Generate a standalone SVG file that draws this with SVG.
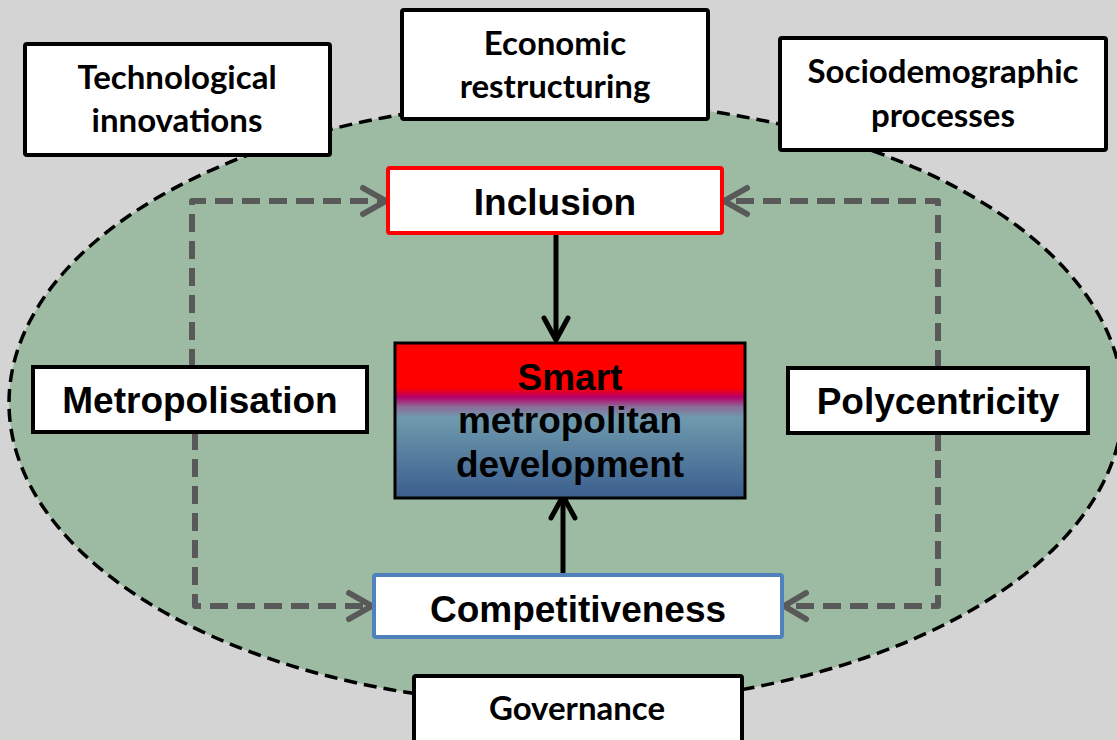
<svg xmlns="http://www.w3.org/2000/svg" width="1117" height="740" viewBox="0 0 1117 740">
<style>
.box{fill:#ffffff;stroke:#000000;stroke-width:4}
.t1{font-family:"Liberation Sans",Arial,sans-serif;font-weight:bold;font-size:37px;fill:#000000;text-anchor:middle}
.t2{font-family:Lato,"Open Sans",sans-serif;font-weight:bold;font-size:33px;fill:#000000;text-anchor:middle}
.dash{fill:none;stroke:#595959;stroke-width:6;stroke-dasharray:18 9;stroke-linejoin:round}
.head{fill:none;stroke:#595959;stroke-width:6;stroke-linecap:round;stroke-linejoin:round}
.solid{fill:none;stroke:#000000;stroke-width:5}
.shead{fill:none;stroke:#000000;stroke-width:5;stroke-linecap:round;stroke-linejoin:round}
</style>
<defs>
<linearGradient id="grad" x1="0" y1="0" x2="0" y2="1">
<stop offset="0" stop-color="#FF0000"/>
<stop offset="0.29" stop-color="#FF0000"/>
<stop offset="0.35" stop-color="#B4006A"/>
<stop offset="0.41" stop-color="#8C6A98"/>
<stop offset="0.48" stop-color="#6F9AAD"/>
<stop offset="1" stop-color="#3B5E8E"/>
</linearGradient>
</defs>
<rect x="0" y="0" width="1117" height="740" fill="#D4D4D4"/>
<ellipse id="region" cx="566" cy="403" rx="557" ry="302" fill="#9CBBA2" stroke="#000000" stroke-width="3.5" stroke-dasharray="13 7"/>
<g id="connectors">
<path class="dash" d="M192,367 V201 H384"/>
<path class="head" d="M363,188 L386,201 L363,214"/>
<path class="dash" d="M938,368 V201 H726"/>
<path class="head" d="M747,188 L724,201 L747,214"/>
<path class="dash" d="M195,432 V606 H370"/>
<path class="head" d="M349,593 L372,606 L349,619"/>
<path class="dash" d="M938,433 V606 H786"/>
<path class="head" d="M806,593 L784,606 L806,619"/>
<path class="solid" d="M556,233 V339"/>
<path class="shead" d="M544,318 L556,340 L568,318"/>
<path class="solid" d="M563,574 V499"/>
<path class="shead" d="M551,518 L563,496 L575,518"/>
</g>
<g id="tech">
<rect class="box" x="25" y="44" width="305" height="111" rx="2"/>
<text class="t2" x="177" y="89">Technological</text>
<text class="t2" x="177" y="132">innovations</text>
</g>
<g id="econ">
<rect class="box" x="402" y="10" width="306" height="109" rx="2"/>
<text class="t2" x="555" y="55">Economic</text>
<text class="t2" x="555" y="98">restructuring</text>
</g>
<g id="socio">
<rect class="box" x="780" y="38" width="326" height="112" rx="2"/>
<text class="t2" x="943" y="83">Sociodemographic</text>
<text class="t2" x="943" y="127">processes</text>
</g>
<g id="inclusion">
<rect x="388" y="168" width="334" height="65" rx="2" fill="#ffffff" stroke="#FF0000" stroke-width="4"/>
<text class="t1" x="555" y="215">Inclusion</text>
</g>
<g id="smart">
<rect x="395" y="343" width="350" height="155" fill="url(#grad)" stroke="#000000" stroke-width="3"/>
<text class="t1" x="570" y="390">Smart</text>
<text class="t1" x="570" y="433">metropolitan</text>
<text class="t1" x="570" y="477">development</text>
</g>
<g id="metro">
<rect class="box" x="33" y="367" width="334" height="65" stroke-width="3.5"/>
<text class="t1" x="200" y="413">Metropolisation</text>
</g>
<g id="poly">
<rect class="box" x="788" y="368" width="300" height="65" stroke-width="3.5"/>
<text class="t1" x="938" y="414">Polycentricity</text>
</g>
<g id="comp">
<rect x="374" y="575" width="408" height="62" rx="2" fill="#ffffff" stroke="#4F81BD" stroke-width="4"/>
<text class="t1" x="578" y="622">Competitiveness</text>
</g>
<g id="gov">
<rect class="box" x="414" y="676" width="328" height="70" rx="2"/>
<text class="t2" x="577" y="720">Governance</text>
</g>
</svg>
